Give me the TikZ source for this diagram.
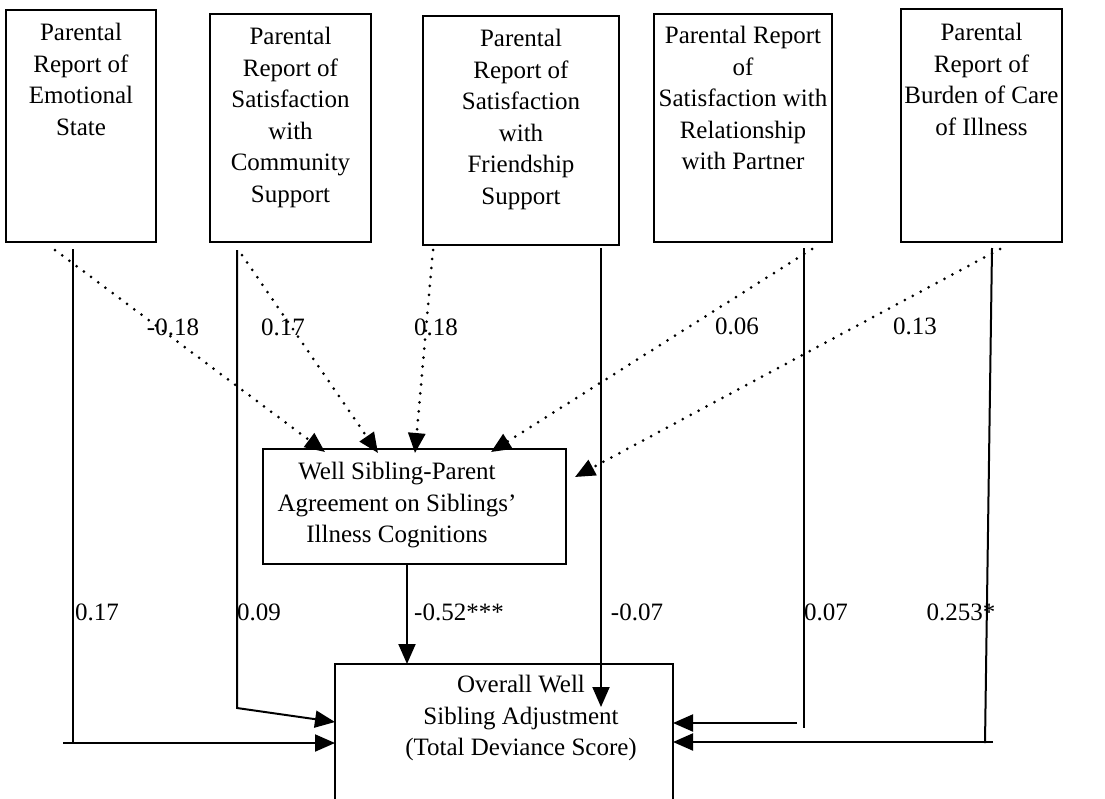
\documentclass[tikz,border=0pt]{standalone}
\usepackage{fontspec}
\setmainfont{Liberation Serif}
\usetikzlibrary{arrows.meta}
\begin{document}
\begin{tikzpicture}[x=1pt,y=-1pt,
  every node/.style={font=\fontsize{25}{31.6}\selectfont},
  box/.style={draw, line width=2.5pt, inner sep=0pt},
  txt/.style={align=center, inner sep=0pt, anchor=north},
  lbl/.style={inner sep=0pt},
  conn/.style={line width=2pt},
  arr/.style={conn, -{Triangle[length=20pt,width=17pt]}},
  dotarr/.style={line width=3pt, line cap=round, dash pattern=on 0pt off 9pt, -{Triangle[length=20pt,width=17pt]}}]
\useasboundingbox (0,0) rectangle (1105,798);
\clip (0,0) rectangle (1105,798);
% top boxes
\node[box, minimum width=150pt, minimum height=232pt] (b1) at (81,126) {};
\node[box, minimum width=161pt, minimum height=228pt] (b2) at (290.5,128) {};
\node[box, minimum width=196pt, minimum height=229pt] (b3) at (521,130.5) {};
\node[box, minimum width=178pt, minimum height=228pt] (b4) at (743,128) {};
\node[box, minimum width=161pt, minimum height=233pt] (b5) at (981.5,125.5) {};
\node[txt] (t1) at (81,23) {Parental\\Report of\\Emotional\\State};
\node[txt] (t2) at (290.5,27) {Parental\\Report of\\Satisfaction\\with\\Community\\Support};
\node[txt] (t3) at (521,29) {Parental\\Report of\\Satisfaction\\with\\Friendship\\Support};
\node[txt] (t4) at (743,26) {Parental Report\\of\\Satisfaction with\\Relationship\\with Partner};
\node[txt] (t5) at (981.5,23) {Parental\\Report of\\Burden of Care\\of Illness};
% middle and outcome boxes
\node[box, minimum width=303pt, minimum height=115pt] (mid) at (414.5,506.5) {};
\node[txt] (tm) at (397,462) {Well Sibling-Parent\\Agreement on Siblings’\\Illness Cognitions};
\node[box, minimum width=338pt, minimum height=170pt] (out) at (504,749) {};
\node[txt] (to) at (521,675) {Overall Well\\Sibling Adjustment\\(Total Deviance Score)};
% coordinates
\coordinate (s1) at (73,249);   \coordinate (k1) at (73,743);   \coordinate (e1) at (335,743);
\coordinate (s2) at (237,250);  \coordinate (k2) at (237,708);  \coordinate (e2) at (335,722);
\coordinate (s3) at (601,248);  \coordinate (e3) at (601,707);
\coordinate (s4) at (804,248);  \coordinate (k4) at (804,728);  \coordinate (h4) at (797,723); \coordinate (e4) at (673,723);
\coordinate (s5) at (992,248);  \coordinate (k5) at (985,743);  \coordinate (h5) at (993,742); \coordinate (e5) at (673,742);
\coordinate (sm) at (407,564);  \coordinate (em) at (407,664);
\coordinate (d1) at (55,250);   \coordinate (f1) at (325,452);
\coordinate (d2) at (242,255);  \coordinate (f2) at (378,453);
\coordinate (d3) at (433,250);  \coordinate (f3) at (415,453);
\coordinate (d4) at (812,249);  \coordinate (f4) at (491,452);
\coordinate (d5) at (1000,249); \coordinate (f5) at (575,477);
% direct paths
\draw[conn] (s1) -- (k1) -- ++(-10,0);
\draw[arr] (k1) -- (e1);
\draw[arr] (s2) -- (k2) -- (e2);
\draw[arr] (s3) -- (e3);
\draw[conn] (s4) -- (k4);
\draw[arr] (h4) -- (e4);
\draw[conn] (s5) -- (k5);
\draw[arr] (h5) -- (e5);
\draw[arr] (sm) -- (em);
% dotted paths
\draw[dotarr] (d1) -- (f1);
\draw[dotarr] (d2) -- (f2);
\draw[dotarr] (d3) -- (f3);
\draw[dotarr] (d4) -- (f4);
\draw[dotarr] (d5) -- (f5);
% labels
\node[lbl] (l1) at (173,327) {-0.18};
\node[lbl] (l2) at (283,327) {0.17};
\node[lbl] (l3) at (436,327) {0.18};
\node[lbl] (l4) at (737,326) {0.06};
\node[lbl] (l5) at (915,326) {0.13};
\node[lbl] (m1) at (97,612) {0.17};
\node[lbl] (m2) at (259,612) {0.09};
\node[lbl] (m3) at (459,612) {-0.52***};
\node[lbl] (m4) at (637,612) {-0.07};
\node[lbl] (m5) at (826,612) {0.07};
\node[lbl] (m6) at (961,612) {0.253*};
\end{tikzpicture}
\end{document}
